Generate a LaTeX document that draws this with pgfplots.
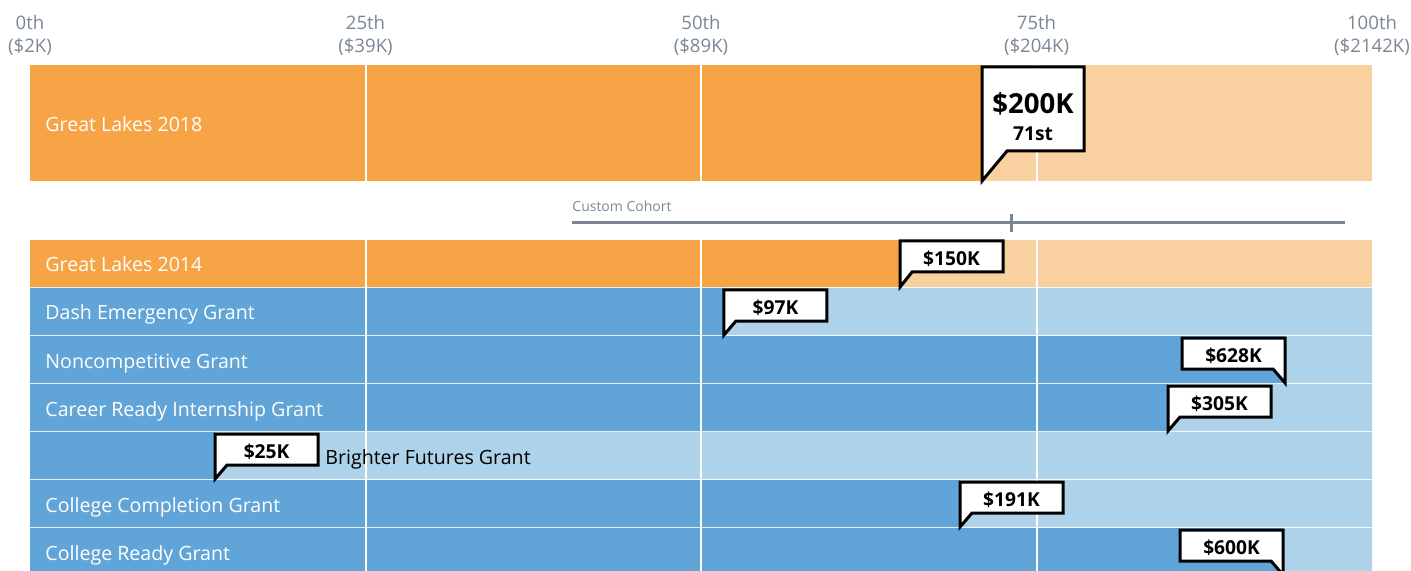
\documentclass[border=0pt]{standalone}
\usepackage{pgfplots}
\pgfplotsset{compat=1.18}
\usepackage{fontspec}
\setmainfont{Open Sans}

\definecolor{orD}{HTML}{F7A446}
\definecolor{orL}{HTML}{F9D09F}
\definecolor{blD}{HTML}{61A5D8}
\definecolor{blL}{HTML}{AED2EA}
\definecolor{txtgray}{HTML}{7B8794}
\definecolor{linegray}{HTML}{7A8591}

\newcommand\rowfont{\fontsize{9.8}{11}\selectfont}
\newcommand\boxfont{\bfseries\fontsize{9.6}{11}\selectfont}

% callout with the tail at bottom left: x, box top, box bottom, tip y, text
\newcommand\calloutL[5]{%
  \draw[line width=1.5pt, fill=white]
    (axis cs:#1,#4) -- (axis cs:#1,#2) -- ([xshift=51.5pt]axis cs:#1,#2)
    -- ([xshift=51.5pt]axis cs:#1,#3) -- ([xshift=6pt]axis cs:#1,#3) -- cycle;
  \node[font=\boxfont, anchor=base, inner sep=0pt] at ([xshift=25.75pt]axis cs:#1,{(#2+#3)/2+9}) {#5};
}
% callout with the tail at bottom right
\newcommand\calloutR[5]{%
  \draw[line width=1.5pt, fill=white]
    (axis cs:#1,#4) -- (axis cs:#1,#2) -- ([xshift=-51.5pt]axis cs:#1,#2)
    -- ([xshift=-51.5pt]axis cs:#1,#3) -- ([xshift=-6pt]axis cs:#1,#3) -- cycle;
  \node[font=\boxfont, anchor=base, inner sep=0pt] at ([xshift=-25.75pt]axis cs:#1,{(#2+#3)/2+9}) {#5};
}
\newcommand\pctlabel[2]{%
  \node[text=txtgray, align=center, font=\fontsize{9.3}{11.5}\selectfont]
    at (axis cs:#1,35.5) {#1th\\(\$#2K)};
}
% row label: position, text
\newcommand\rowlabel[3][white]{%
  \node[anchor=base west, text=#1, font=\rowfont, inner sep=0pt] at (axis cs:#2) {#3};
}

\begin{document}
\begin{tikzpicture}
\begin{axis}[
  scale only axis, width=705.5pt, height=285.5pt,
  xmin=-2.2355, xmax=102.906, ymin=0, ymax=571, y dir=reverse,
  hide axis, clip=false]

% full range (light)
\addplot[xbar, bar width=116, fill=orL, draw=none] coordinates {(100,123)};
\addplot[xbar, bar width=47, fill=orL, draw=none] coordinates {(100,263.5)};
\addplot[xbar, bar width=47, fill=blL, draw=none] coordinates {
  (100,311.5) (100,359.5) (100,407.5) (100,455.5) (100,503.5) (100,551.5)};

% percentile reached (dark)
\addplot[xbar, bar width=116, fill=orD, draw=none] coordinates {(70.94,123)};
\addplot[xbar, bar width=47, fill=orD, draw=none] coordinates {(64.83,263.5)};
\addplot[xbar, bar width=47, fill=blD, draw=none] coordinates {
  (51.71,311.5) (93.52,359.5) (84.80,407.5) (13.79,455.5) (69.30,503.5) (93.37,551.5)};

% quartile lines
\pgfplotsinvokeforeach{25,50,75}{
  \draw[white, line width=1pt] (axis cs:#1,65) -- (axis cs:#1,181);
  \draw[white, line width=1pt] (axis cs:#1,240) -- (axis cs:#1,576);
}

% percentile labels on top
\pctlabel{0}{2}
\pctlabel{25}{39}
\pctlabel{50}{89}
\pctlabel{75}{204}
\pctlabel{100}{2142}

% custom cohort range
\addplot[linegray, line width=1.5pt] coordinates {(40.39,223) (97.99,223)};
\addplot[linegray, line width=1.5pt] coordinates {(73.10,214) (73.10,232)};
\node[anchor=west, text=txtgray, font=\fontsize{7}{8}\selectfont, inner sep=0pt]
  at (axis cs:40.39,206) {Custom Cohort};

% row labels
\rowlabel{1.118,132}{Great Lakes 2018}
\rowlabel{1.118,272}{Great Lakes 2014}
\rowlabel{1.118,320}{Dash Emergency Grant}
\rowlabel{1.118,368}{Noncompetitive Grant}
\rowlabel{1.118,416}{Career Ready Internship Grant}
\rowlabel[black]{21.98,464}{Brighter Futures Grant}
\rowlabel{1.118,512}{College Completion Grant}
\rowlabel{1.118,560}{College Ready Grant}

% main callout
\draw[line width=1.5pt, fill=white]
  (axis cs:70.94,181) -- (axis cs:70.94,67) -- ([xshift=51pt]axis cs:70.94,67)
  -- ([xshift=51pt]axis cs:70.94,151) -- ([xshift=12.5pt]axis cs:70.94,151) -- cycle;
\node[font=\bfseries\fontsize{13.8}{16}\selectfont, anchor=base, inner sep=0pt] at ([xshift=25.5pt]axis cs:70.94,114) {\$200K};
\node[font=\bfseries\fontsize{9.6}{11}\selectfont, anchor=base, inner sep=0pt] at ([xshift=25.5pt]axis cs:70.94,141) {71st};

\calloutL{64.83}{241}{272}{287}{\$150K}
\calloutL{51.71}{290}{321}{335}{\$97K}
\calloutR{93.52}{338}{369}{383}{\$628K}
\calloutL{84.80}{386}{417}{431}{\$305K}
\calloutL{13.79}{434}{465}{479}{\$25K}
\calloutL{69.30}{482}{513}{527}{\$191K}
\calloutR{93.37}{530}{561}{575}{\$600K}
\end{axis}
\pgfresetboundingbox
\useasboundingbox (current axis.south west) rectangle (current axis.north east);
\end{tikzpicture}
\end{document}
